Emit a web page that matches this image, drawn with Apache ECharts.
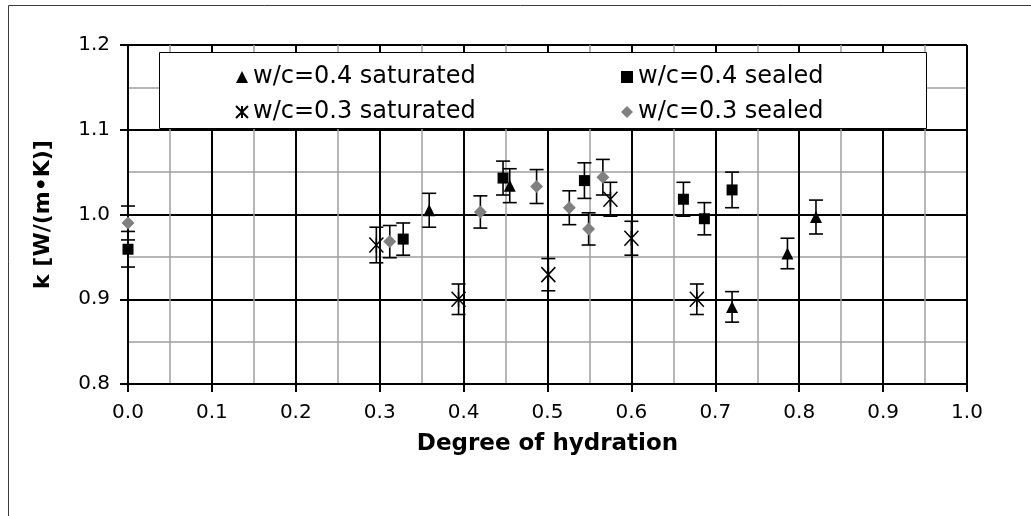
<!DOCTYPE html>
<html>
<head>
<meta charset="utf-8">
<script src="https://cdn.jsdelivr.net/npm/echarts@6/dist/echarts.min.js"></script>
<style>
  html, body { margin: 0; padding: 0; background: #fff; }
  #main { width: 1031px; height: 516px; }
</style>
</head>
<body>
<div id="main"></div>
<script>
// w/c=0.4 saturated
var sat04X = [0.359, 0.455, 0.720, 0.786, 0.820];
var sat04Y = [1.005, 1.034, 0.891, 0.954, 0.997];
var sat04Err = [0.020, 0.020, 0.018, 0.018, 0.020];

// w/c=0.4 sealed
var seal04X = [0.000, 0.328, 0.447, 0.544, 0.662, 0.687, 0.720];
var seal04Y = [0.959, 0.971, 1.043, 1.040, 1.018, 0.995, 1.029];
var seal04Err = [0.021, 0.019, 0.020, 0.021, 0.020, 0.019, 0.021];

// w/c=0.3 saturated
var sat03X = [0.296, 0.394, 0.501, 0.575, 0.600, 0.678];
var sat03Y = [0.964, 0.900, 0.929, 1.018, 0.972, 0.900];
var sat03Err = [0.021, 0.018, 0.019, 0.020, 0.020, 0.018];

// w/c=0.3 sealed
var seal03X = [0.000, 0.312, 0.420, 0.487, 0.526, 0.549, 0.566];
var seal03Y = [0.990, 0.968, 1.003, 1.033, 1.008, 0.983, 1.044];
var seal03Err = [0.020, 0.019, 0.019, 0.020, 0.020, 0.019, 0.021];

var seriesNames = ["w/c=0.4 saturated", "w/c=0.4 sealed", "w/c=0.3 saturated", "w/c=0.3 sealed"];
var xTicks = [0, 0.1, 0.2, 0.3, 0.4, 0.5, 0.6, 0.7, 0.8, 0.9, 1.0];
var yTicks = [0.8, 0.9, 1.0, 1.1, 1.2];

var FONT = "DejaVu Sans";

function points(xs, ys) {
  return xs.map(function (x, i) { return [x, ys[i]]; });
}
function bars(xs, ys, es) {
  return xs.map(function (x, i) { return [x, ys[i] - es[i], ys[i] + es[i]]; });
}

// vertical error bar with caps
function errorBar(params, api) {
  var x = api.value(0);
  var lo = api.coord([x, api.value(1)]);
  var hi = api.coord([x, api.value(2)]);
  var half = 7;
  var st = { stroke: "#000", lineWidth: 1.6, fill: null };
  return {
    type: "group",
    children: [
      { type: "line", shape: { x1: lo[0], y1: lo[1], x2: hi[0], y2: hi[1] }, style: st },
      { type: "line", shape: { x1: lo[0] - half, y1: lo[1], x2: lo[0] + half, y2: lo[1] }, style: st },
      { type: "line", shape: { x1: hi[0] - half, y1: hi[1], x2: hi[0] + half, y2: hi[1] }, style: st }
    ]
  };
}

function errSeries(data) {
  return {
    type: "custom",
    renderItem: errorBar,
    data: data,
    encode: { x: 0, y: [1, 2] },
    z: 3,
    silent: true
  };
}

var chartDom = document.getElementById("main");
var myChart = echarts.init(chartDom);

var legendText = { fontFamily: FONT, fontSize: 24, color: "#000" };

var option = {
  animation: false,
  textStyle: { fontFamily: FONT },
  graphic: [
    {
      type: "rect",
      shape: { x: 8.5, y: 5.5, width: 1100, height: 600 },
      style: { fill: null, stroke: "#3a3a3a", lineWidth: 1 },
      z: -10
    },
    {
      type: "rect",
      shape: { x: 159.5, y: 52.5, width: 767, height: 76 },
      style: { fill: "#fff", stroke: "#000", lineWidth: 1 },
      z: 10
    }
  ],
  legend: [
    {
      data: [seriesNames[0], seriesNames[2]],
      orient: "vertical",
      left: 230,
      top: 60,
      itemWidth: 12,
      itemHeight: 12,
      itemGap: 11,
      textStyle: legendText,
      z: 20
    },
    {
      data: [seriesNames[1], seriesNames[3]],
      orient: "vertical",
      left: 616,
      top: 60,
      itemWidth: 12,
      itemHeight: 12,
      itemGap: 11,
      textStyle: legendText,
      z: 20
    }
  ],
  grid: { left: 128, right: 64, top: 45, bottom: 132 },
  xAxis: {
    type: "value",
    min: 0,
    max: 1,
    interval: 0.1,
    name: "Degree of hydration",
    nameLocation: "middle",
    nameGap: 49,
    nameTextStyle: { fontFamily: FONT, fontSize: 23, fontWeight: "bold", color: "#000" },
    axisLine: { onZero: false, lineStyle: { color: "#000", width: 2 } },
    axisTick: { show: true, inside: false, length: 8, lineStyle: { color: "#000", width: 2 } },
    axisLabel: {
      margin: 19,
      fontSize: 20,
      color: "#000",
      formatter: function (v) { return v.toFixed(1); },
      customValues: xTicks
    },
    splitLine: { show: true, lineStyle: { color: "#000", width: 2 } },
    minorTick: { show: false, splitNumber: 2 },
    minorSplitLine: { show: true, lineStyle: { color: "#a0a0a0", width: 1.5 } }
  },
  yAxis: {
    type: "value",
    min: 0.8,
    max: 1.2,
    interval: 0.1,
    name: "k [W/(m\u2022K)]",
    nameLocation: "middle",
    nameRotate: 90,
    nameGap: 74,
    nameTextStyle: { fontFamily: FONT, fontSize: 22, fontWeight: "bold", color: "#000" },
    axisLine: { show: true, onZero: false, lineStyle: { color: "#000", width: 2 } },
    axisTick: { show: true, inside: false, length: 8, lineStyle: { color: "#000", width: 2 } },
    axisLabel: {
      margin: 18,
      fontSize: 20,
      color: "#000",
      formatter: function (v) { return v.toFixed(1); },
      customValues: yTicks
    },
    splitLine: { show: true, lineStyle: { color: "#000", width: 2 } },
    minorTick: { show: false, splitNumber: 2 },
    minorSplitLine: { show: true, lineStyle: { color: "#a0a0a0", width: 1.5 } }
  },
  series: [
    errSeries(bars(sat04X, sat04Y, sat04Err)),
    errSeries(bars(seal04X, seal04Y, seal04Err)),
    errSeries(bars(sat03X, sat03Y, sat03Err)),
    errSeries(bars(seal03X, seal03Y, seal03Err)),
    {
      name: seriesNames[0],
      type: "scatter",
      symbol: "triangle",
      symbolSize: 12,
      itemStyle: { color: "#000", opacity: 1 },
      data: points(sat04X, sat04Y),
      z: 5
    },
    {
      name: seriesNames[1],
      type: "scatter",
      symbol: "rect",
      symbolSize: 11,
      itemStyle: { color: "#000", opacity: 1 },
      data: points(seal04X, seal04Y),
      z: 5
    },
    {
      name: seriesNames[2],
      type: "scatter",
      symbol: "path://M0,0L10,10M10,0L0,10M5,0L5,10",
      symbolSize: [14, 15],
      itemStyle: { color: "transparent", borderColor: "#000", borderWidth: 1.6, opacity: 1 },
      data: points(sat03X, sat03Y),
      z: 5
    },
    {
      name: seriesNames[3],
      type: "scatter",
      symbol: "diamond",
      symbolSize: 13,
      itemStyle: { color: "#808080", opacity: 1 },
      data: points(seal03X, seal03Y),
      z: 5
    }
  ]
};

option && myChart.setOption(option);
</script>
</body>
</html>
